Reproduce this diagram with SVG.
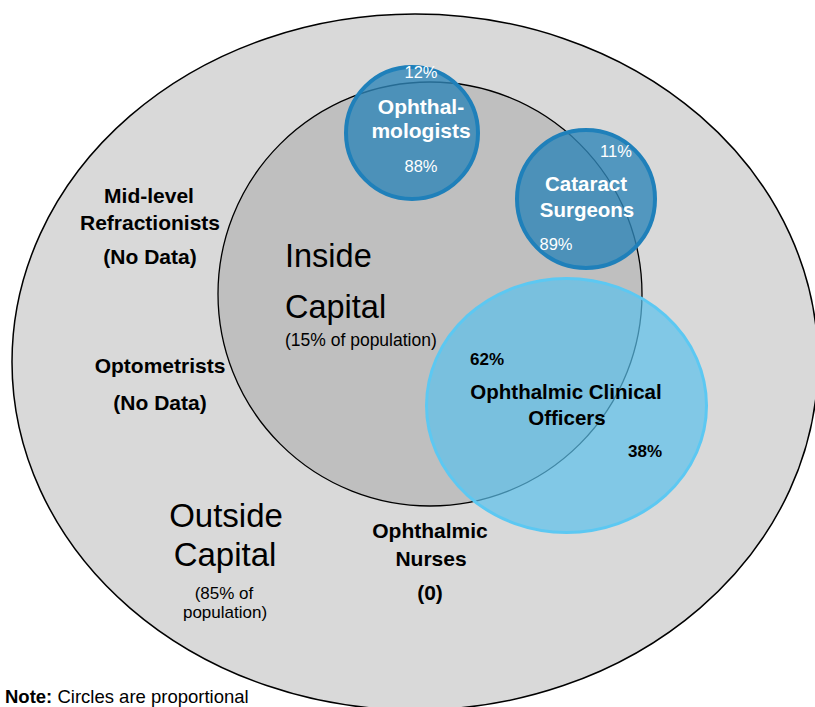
<svg xmlns="http://www.w3.org/2000/svg" width="815" height="707" viewBox="0 0 815 707">
<style>
text{font-family:"Liberation Sans",Arial,sans-serif;fill:#000}
.b{font-weight:bold}
.w{fill:#fff}
.lab{font-size:21px;font-weight:bold}
.pct{font-size:16.5px}
.blue{fill:#2f86b8;fill-opacity:0.8;stroke:#1f80ba;stroke-width:4}
</style>
<rect width="815" height="707" fill="#fff"/>
<g id="outside-capital">
<ellipse cx="415" cy="362" rx="403" ry="348" fill="#d9d9d9" stroke="#000" stroke-width="1.5"/>
</g>
<g id="inside-capital">
<circle cx="430" cy="294" r="212" fill="#bfbfbf" stroke="#000" stroke-width="1.3"/>
</g>
<g id="ophthalmologists">
<circle class="blue" cx="412" cy="133" r="66"/>
</g>
<g id="cataract-surgeons">
<circle class="blue" cx="586" cy="199" r="69"/>
</g>
<g id="clinical-officers">
<ellipse cx="566.5" cy="405.5" rx="140" ry="127" fill="#5bc0eb" fill-opacity="0.7" stroke="#5cc8f2" stroke-width="3"/>
</g>
<g id="connectors"></g>
<g id="labels">
<text class="w pct" x="421" y="78" text-anchor="middle">12%</text>
<text class="w b" font-size="21" x="421" y="114" text-anchor="middle">Ophthal-</text>
<text class="w b" font-size="21" x="421" y="138" text-anchor="middle">mologists</text>
<text class="w pct" x="421" y="172" text-anchor="middle">88%</text>

<text class="w pct" x="616" y="157" text-anchor="middle">11%</text>
<text class="w b" font-size="20.5" x="586" y="191" text-anchor="middle">Cataract</text>
<text class="w b" font-size="20.5" x="587" y="217" text-anchor="middle">Surgeons</text>
<text class="w pct" x="556" y="250" text-anchor="middle">89%</text>

<text font-size="32.5" x="285" y="267">Inside</text>
<text font-size="32.5" x="285" y="318">Capital</text>
<text font-size="17.5" x="285" y="346">(15% of population)</text>

<text class="b" font-size="17" x="470" y="365">62%</text>
<text class="b" font-size="20.5" x="566" y="399" text-anchor="middle">Ophthalmic Clinical</text>
<text class="b" font-size="20.5" x="567" y="425" text-anchor="middle">Officers</text>
<text class="b" font-size="17" x="628" y="457">38%</text>

<text class="lab" x="149" y="203" text-anchor="middle">Mid-level</text>
<text class="lab" x="150" y="230" text-anchor="middle">Refractionists</text>
<text class="lab" x="150" y="264" text-anchor="middle">(No Data)</text>
<text class="lab" x="160" y="373" text-anchor="middle">Optometrists</text>
<text class="lab" x="160" y="410" text-anchor="middle">(No Data)</text>

<text font-size="33" x="226" y="527" text-anchor="middle">Outside</text>
<text font-size="33" x="225" y="566" text-anchor="middle">Capital</text>
<text font-size="17" x="224" y="599" text-anchor="middle">(85% of</text>
<text font-size="17" x="225" y="618" text-anchor="middle">population)</text>

<text class="lab" x="430" y="538" text-anchor="middle">Ophthalmic</text>
<text class="lab" x="431" y="566" text-anchor="middle">Nurses</text>
<text class="lab" x="430" y="600" text-anchor="middle">(0)</text>

<text font-size="18.5" x="5" y="703"><tspan class="b">Note:</tspan> Circles are proportional</text>
</g>
</svg>
